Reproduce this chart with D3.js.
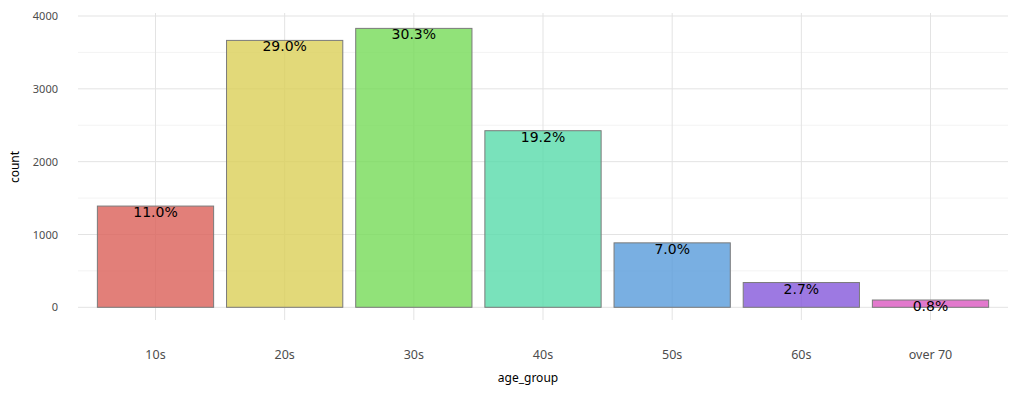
<!DOCTYPE html>
<html>
<head>
<meta charset="utf-8">
<script src="https://cdn.jsdelivr.net/npm/d3@7"></script>
<style>
  body { margin: 0; background: #fff; }
  svg text { font-family: "Noto Sans", "DejaVu Sans", sans-serif; }
</style>
</head>
<body>
<div id="chart"></div>
<script>
const W = 1018, H = 396;

// data
const ageGroups = ["10s", "20s", "30s", "40s", "50s", "60s", "over 70"];
const counts = [1390, 3665, 3830, 2425, 885, 340, 100];
const yTicks = [0, 1000, 2000, 3000, 4000];
const yMinorTicks = [500, 1500, 2500, 3500];
const barColors = ["#db5f57", "#dbd057", "#75db57", "#57dbaa", "#579bdb", "#8457db", "#db57c0"];

const total = d3.sum(counts);

const x = d3.scaleBand()
    .domain(ageGroups)
    .range([78, 1008])
    .paddingInner(0.1)
    .paddingOuter(0.15);

const y = d3.scaleLinear()
    .domain([0, 4000])
    .range([307.3, 16]);

const color = d3.scaleOrdinal().domain(ageGroups).range(barColors);

const svg = d3.select("#chart")
    .append("svg")
    .attr("width", W)
    .attr("height", H);

// grid
const grid = svg.append("g");
grid.selectAll("line.minor")
    .data(yMinorTicks)
    .enter().append("line")
    .attr("x1", 78).attr("x2", 1008)
    .attr("y1", d => y(d)).attr("y2", d => y(d))
    .attr("stroke", "#f3f3f3").attr("stroke-width", 1);
grid.selectAll("line.major")
    .data(yTicks)
    .enter().append("line")
    .attr("x1", 78).attr("x2", 1008)
    .attr("y1", d => y(d)).attr("y2", d => y(d))
    .attr("stroke", "#e3e3e3").attr("stroke-width", 1);
grid.selectAll("line.vert")
    .data(ageGroups)
    .enter().append("line")
    .attr("x1", d => x(d) + x.bandwidth() / 2).attr("x2", d => x(d) + x.bandwidth() / 2)
    .attr("y1", 13).attr("y2", 320)
    .attr("stroke", "#e3e3e3").attr("stroke-width", 1);

// bars
svg.append("g")
    .selectAll("rect")
    .data(ageGroups)
    .enter().append("rect")
    .attr("x", d => x(d))
    .attr("width", x.bandwidth())
    .attr("y", (d, i) => y(counts[i]))
    .attr("height", (d, i) => y(0) - y(counts[i]))
    .attr("fill", d => color(d))
    .attr("fill-opacity", 0.8)
    .attr("stroke", "#7a7a7a")
    .attr("stroke-width", 1);

// percent labels
svg.append("g")
    .selectAll("text")
    .data(ageGroups)
    .enter().append("text")
    .attr("x", d => x(d) + x.bandwidth() / 2)
    .attr("y", (d, i) => y(counts[i]) + 7)
    .attr("text-anchor", "middle")
    .attr("dominant-baseline", "middle")
    .style("font-family", "'DejaVu Sans', sans-serif")
    .style("font-size", "14px")
    .attr("fill", "#000")
    .text((d, i) => (counts[i] / total * 100).toFixed(1) + "%");

// y axis
const yAxis = svg.append("g")
    .attr("transform", "translate(58,0)")
    .call(d3.axisLeft(y).tickValues(yTicks).tickFormat(d3.format("d")).tickSize(0).tickPadding(0));
yAxis.select(".domain").remove();
yAxis.selectAll("text")
    .style("font-size", "11px")
    .attr("fill", "#4d4d4d");

// x axis
const xAxis = svg.append("g")
    .attr("transform", "translate(0,350)")
    .call(d3.axisBottom(x).tickSize(0).tickPadding(0));
xAxis.select(".domain").remove();
xAxis.selectAll("text")
    .style("font-size", "12.5px")
    .attr("fill", "#4d4d4d");

// axis titles
svg.append("text")
    .attr("x", 528).attr("y", 382)
    .attr("text-anchor", "middle")
    .style("font-size", "12px")
    .attr("fill", "#000")
    .text("age_group");

svg.append("text")
    .attr("transform", "translate(19,167) rotate(-90)")
    .attr("text-anchor", "middle")
    .style("font-size", "12px")
    .attr("fill", "#000")
    .text("count");
</script>
</body>
</html>
